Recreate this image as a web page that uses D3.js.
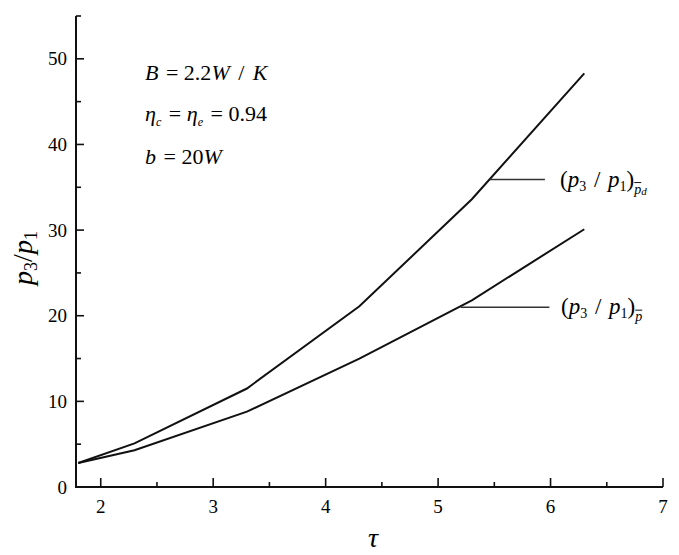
<!DOCTYPE html>
<html>
<head>
<meta charset="utf-8">
<script src="https://cdn.jsdelivr.net/npm/d3@7"></script>
</head>
<body style="margin:0">
<svg id="s" width="679" height="555"></svg>
<script>
// tau values and the two pressure ratio curves
const TAU = [1.8, 2.3, 3.3, 4.3, 5.3, 6.3];
const RATIO_PD = [2.8, 5.1, 11.5, 21.1, 33.6, 48.3];
const RATIO_P = [2.8, 4.3, 8.8, 15.0, 21.8, 30.1];
const X_TICKS = [2, 3, 4, 5, 6, 7];
const Y_TICKS = [0, 10, 20, 30, 40, 50];

const W = 679, H = 555;
const MARGIN = { top: 16, right: 16, bottom: 68, left: 76 };
const FONT = "Times New Roman, Tinos, Liberation Serif";

const svg = d3.select("#s");

const x = d3.scaleLinear().domain([1.78, 7]).range([MARGIN.left, W - MARGIN.right]);
const y = d3.scaleLinear().domain([0, 55]).range([H - MARGIN.bottom, MARGIN.top]);

//Ticks pointing inward, drawn as plain lines
const xMinor = d3.range(2.5, 7, 1);
const yMinor = d3.range(5, 56, 10);

svg.append("g").selectAll("line").data(X_TICKS.map(v => [v, 9]).concat(xMinor.map(v => [v, 5]))).join("line")
  .attr("x1", d => x(d[0])).attr("x2", d => x(d[0]))
  .attr("y1", y(0)).attr("y2", d => y(0) - d[1])
  .attr("stroke", "#111").attr("stroke-width", 1.6);

svg.append("g").selectAll("line").data(Y_TICKS.slice(1).map(v => [v, 8]).concat(yMinor.map(v => [v, 5]))).join("line")
  .attr("x1", x(1.78)).attr("x2", d => x(1.78) + d[1])
  .attr("y1", d => y(d[0])).attr("y2", d => y(d[0]))
  .attr("stroke", "#111").attr("stroke-width", 1.6);

//Axis lines (L shape)
svg.append("path")
  .attr("d", `M${x(1.78)},${y(55)}V${y(0)}H${x(7)}`)
  .attr("fill", "none")
  .attr("stroke", "#111")
  .attr("stroke-width", 2);

//Tick labels
svg.selectAll("text.xt").data(X_TICKS).join("text")
  .attr("class", "xt")
  .attr("x", d => x(d))
  .attr("y", y(0) + 26)
  .attr("text-anchor", "middle")
  .attr("font-size", 19)
  .text(d => d);

svg.selectAll("text.yt").data(Y_TICKS).join("text")
  .attr("class", "yt")
  .attr("x", x(1.78) - 9)
  .attr("y", d => y(d) + 6.5)
  .attr("text-anchor", "end")
  .attr("font-size", 19)
  .text(d => d);

//Axis titles
svg.append("text")
  .attr("x", 373)
  .attr("y", 547)
  .attr("text-anchor", "middle")
  .attr("font-size", 28)
  .attr("font-style", "italic")
  .text("τ");

const yTitle = svg.append("text")
  .attr("transform", `translate(32,258) rotate(-90)`)
  .attr("text-anchor", "middle")
  .attr("font-size", 28);
yTitle.append("tspan").attr("font-style", "italic").text("p");
yTitle.append("tspan").attr("font-size", 18).attr("dy", 5).text("3");
yTitle.append("tspan").attr("dy", -5).text("/");
yTitle.append("tspan").attr("font-style", "italic").text("p");
yTitle.append("tspan").attr("font-size", 18).attr("dy", 5).text("1");

//Curves
const line = d3.line().x(d => x(d[0])).y(d => y(d[1]));
[RATIO_PD, RATIO_P].forEach(vals => {
  svg.append("path")
    .datum(TAU.map((t, i) => [t, vals[i]]))
    .attr("d", line)
    .attr("fill", "none")
    .attr("stroke", "#111")
    .attr("stroke-width", 2);
});

//Parameter block
function richText(tx, ty, parts, size) {
  const t = svg.append("text").attr("x", tx).attr("y", ty).attr("font-size", size);
  parts.forEach(p => {
    const s = t.append("tspan").text(p.t);
    if (p.i) s.attr("font-style", "italic");
    if (p.sub) s.attr("font-size", size * 0.55).attr("dy", 5);
    if (p.up) s.attr("dy", -5);
    if (p.dx) s.attr("dx", p.dx);
  });
  return t;
}

richText(145, 80, [{t: "B", i: 1}, {t: " = 2.2", dx: 2}, {t: "W", i: 1}, {t: " / ", dx: 3}, {t: "K", i: 1, dx: 3}], 22);
richText(145, 121, [{t: "η", i: 1}, {t: "c", i: 1, sub: 1}, {t: " = ", up: 1, dx: 2}, {t: "η", i: 1},
  {t: "e", i: 1, sub: 1}, {t: " = 0.94", up: 1, dx: 2}], 22);
richText(145, 164, [{t: "b", i: 1}, {t: " = 20", dx: 2}, {t: "W", i: 1}], 22);

//Leader lines and curve labels
const LEADERS = [
  { x0: 5.46, x1: 5.95, v: 35.9 },
  { x0: 5.2, x1: 5.99, v: 21.0 }
];
LEADERS.forEach(d => {
  svg.append("line")
    .attr("x1", x(d.x0)).attr("x2", x(d.x1))
    .attr("y1", y(d.v)).attr("y2", y(d.v))
    .attr("stroke", "#333").attr("stroke-width", 1.5);
});

function curveLabel(tx, ty, withD) {
  const t = svg.append("text").attr("x", tx).attr("y", ty).attr("font-size", 23);
  t.append("tspan").text("(");
  t.append("tspan").attr("font-style", "italic").text("p");
  t.append("tspan").attr("font-size", 14).attr("dy", 4).text("3");
  t.append("tspan").attr("dy", -4).attr("dx", 2).text(" / ");
  t.append("tspan").attr("font-style", "italic").attr("dx", 2).text("p");
  t.append("tspan").attr("font-size", 14).attr("dy", 4).text("1");
  t.append("tspan").attr("dy", -4).text(")");
  const sub = t.append("tspan").attr("font-size", 14).attr("font-style", "italic").attr("dy", 7).text("p");
  if (withD) t.append("tspan").attr("font-size", 11).attr("font-style", "italic").attr("dy", 1).text("d");
  //overline above the subscript p
  const box = sub.node().getBoundingClientRect();
  svg.append("line")
    .attr("x1", box.left + 1).attr("x2", box.right)
    .attr("y1", ty + 7 - 11).attr("y2", ty + 7 - 11)
    .attr("stroke", "#111").attr("stroke-width", 1);
}

//Serif face on every text element and its tspans
svg.selectAll("text, tspan")
  .attr("font-family", FONT)
  .style("font-family", FONT);

curveLabel(560, y(35.9) + 7, true);
curveLabel(561, y(21.0) + 7, false);

svg.selectAll("text, tspan")
  .attr("font-family", FONT)
  .style("font-family", FONT);
</script>
</body>
</html>
